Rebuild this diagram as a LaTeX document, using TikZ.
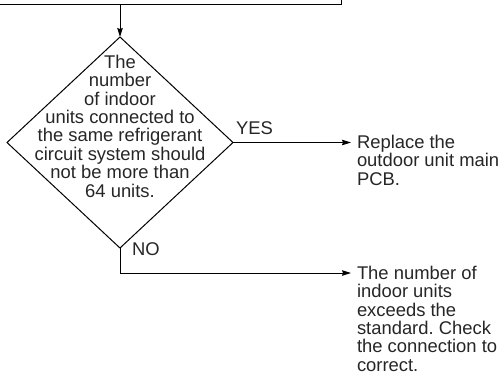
\documentclass[tikz,border=0pt]{standalone}
\usepackage{fontspec}
\setmainfont{Liberation Sans}
\usetikzlibrary{shapes.geometric,arrows.meta}
\begin{document}
\frenchspacing
\begin{tikzpicture}[x=1bp,y=-1bp,
  lbl/.style={inner sep=0pt,outer sep=0pt,text=black!85,font=\fontsize{18.4bp}{18.4bp}\selectfont\frenchspacing},
  ln/.style={line width=1bp,black},
  arr/.style={ln,-{Stealth[length=9bp,width=5.5bp,inset=1bp]}}]
\useasboundingbox (0,0) rectangle (504,375);
\clip (0,0) rectangle (504,375);
\fill[white] (0,0) rectangle (504,375);
% top box (mostly outside the picture)
\node[ln,draw,rectangle,minimum width=400bp,minimum height=60bp,anchor=south east,inner sep=0pt] (top) at (342,5) {};
% decision diamond
\node[ln,draw,diamond,minimum width=226bp,minimum height=211bp,inner sep=0pt,outer sep=0pt] (dia) at (120,142.5) {};
\node[lbl,align=center,anchor=north] (q) at (120,55) {The\\number\\of indoor\\units connected to\\the same refrigerant\\circuit system should\\not be more than\\64 units.};
% outcomes
\node[lbl,align=left,anchor=north west] (rep) at (357,135) {Replace the\\outdoor unit main\\PCB.};
\node[lbl,align=left,anchor=north west] (exc) at (357,266) {The number of\\indoor units\\exceeds the\\standard. Check\\the connection to\\correct.};
% labels
\node[lbl,anchor=north west] (yes) at (236,122) {YES};
\node[lbl,anchor=north west] (no) at (132,243) {NO};
% connectors
\draw[arr] (dia.north |- top.south) -- (dia.north);
\draw[arr] (dia.east) -- ([xshift=-6bp]dia.east -| rep.west);
\coordinate (nocorner) at (120,273);
\draw[arr] (dia.south) -- (nocorner) -- ([xshift=-6bp]nocorner -| exc.west);
\end{tikzpicture}
\end{document}
